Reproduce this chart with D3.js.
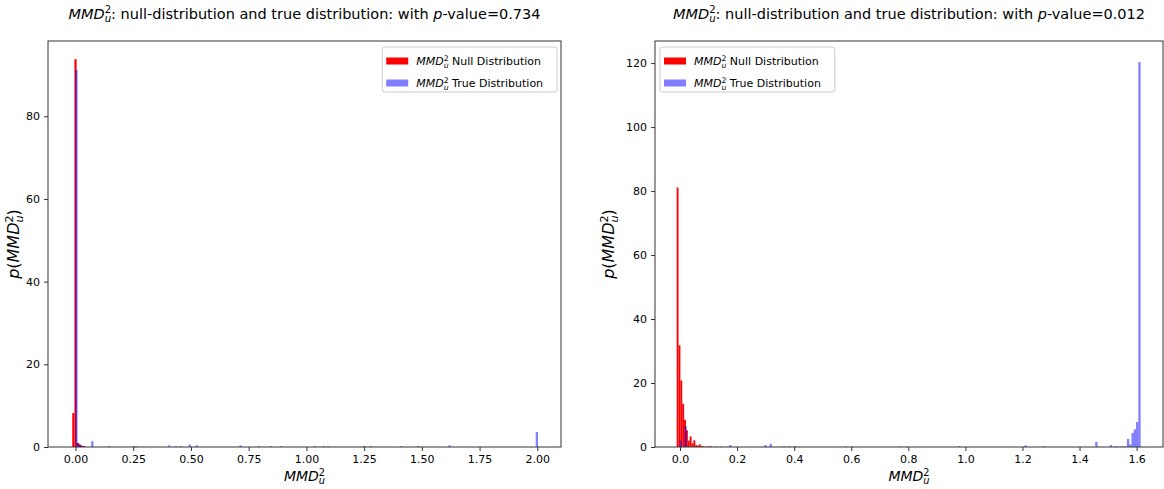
<!DOCTYPE html>
<html>
<head>
<meta charset="utf-8">
<script src="https://cdn.jsdelivr.net/npm/d3@7"></script>
<style>
  body { margin: 0; background: #fff; }
  text { font-family: "DejaVu Sans", sans-serif; fill: #000; }
</style>
</head>
<body>
<script>
// ---- data (bin left edge, density height) ----
// left panel, p-value 0.734
var leftNullW = 0.0095;
var leftNullX0 = [-0.014, -0.0045, 0.005, 0.0145, 0.024, 0.0335];
var leftNullH  = [8.2, 93.8, 1.0, 0.6, 0.3, 0.2];

var leftTrueW = 0.01;
var leftTrueX0 = [-0.001, 0.009, 0.019, 0.029, 0.068, 0.142, 0.25, 0.26, 0.40, 0.43, 0.45, 0.49, 0.52,
                  0.71, 0.79, 0.84, 0.885, 1.03, 1.07, 1.09, 1.245, 1.275, 1.405, 1.48, 1.615, 1.993];
var leftTrueH  = [91.2, 0.8, 0.4, 0.2, 1.4, 0.2, 0.2, 0.2, 0.4, 0.2, 0.2, 0.6, 0.4,
                  0.4, 0.2, 0.2, 0.2, 0.2, 0.2, 0.2, 0.2, 0.2, 0.2, 0.2, 0.4, 3.6];

// right panel, p-value 0.012
var rightNullW = 0.0065;
var rightNullX0 = [-0.0116, -0.0051, 0.0014, 0.0079, 0.0144, 0.0209, 0.0274, 0.0339, 0.0404,
                   0.0469, 0.0534, 0.0599, 0.0664, 0.0729, 0.0794, 0.0924, 0.1054];
var rightNullH  = [81.1, 31.8, 20.8, 13.5, 8.5, 5.2, 2.0, 3.3, 1.2,
                   2.1, 0.6, 0.4, 0.8, 0.3, 0.2, 0.2, 0.2];

var rightTrueW = 0.008;
var rightTrueX0 = [-0.001, 0.016, 0.10, 0.12, 0.14, 0.172, 0.296, 0.314, 0.36, 0.38, 0.40, 0.578, 0.60,
                   0.764, 0.79, 0.975, 1.207, 1.27, 1.455, 1.506, 1.52, 1.53, 1.545, 1.555,
                   1.566, 1.574, 1.582, 1.590, 1.598, 1.606];
var rightTrueH  = [2.0, 6.5, 0.2, 0.2, 0.2, 0.6, 0.6, 1.0, 0.2, 0.2, 0.3, 0.2, 0.2,
                   0.2, 0.2, 0.3, 0.5, 0.3, 1.6, 0.6, 0.2, 0.2, 0.2, 0.2,
                   2.5, 0.8, 4.4, 5.5, 7.8, 120.3];

var leftXTicks  = [0, 0.25, 0.5, 0.75, 1.0, 1.25, 1.5, 1.75, 2.0];
var leftYTicks  = [0, 20, 40, 60, 80];
var rightXTicks = [0, 0.2, 0.4, 0.6, 0.8, 1.0, 1.2, 1.4, 1.6];
var rightYTicks = [0, 20, 40, 60, 80, 100, 120];

var pValues = ["0.734", "0.012"];
var legendLabels = ["Null Distribution", "True Distribution"];

// ---- layout ----
var width = 1164, height = 489;
var plotTop = 41, plotBottom = 447;
var colors = ["#ff0000", "rgba(0,0,255,0.5)"];

var svg = d3.select("body").append("svg")
  .attr("width", width)
  .attr("height", height);

function zip(xs, hs) {
  return xs.map(function(x, i) { return {x0: x, h: hs[i]}; });
}

// writes MMD^2_u into a text element, returns the dy needed to get back to the baseline
function mmd(sel, fs) {
  sel.append("tspan").attr("font-style", "italic").text("MMD");
  var sup = sel.append("tspan").attr("font-size", fs * 0.7).attr("dy", -fs * 0.38).text("2");
  var w = sup.node().getComputedTextLength();
  sel.append("tspan").attr("font-size", fs * 0.7).attr("font-style", "italic")
    .attr("dx", -w).attr("dy", fs * 0.62).text("u");
  return -fs * 0.24;
}

var panels = [
  {left: 48, right: 561, xDomain: [-0.119, 2.1026], yDomain: [0, 98.2],
   xTicks: leftXTicks, xFmt: ".2f", yTicks: leftYTicks, p: pValues[0],
   nul: zip(leftNullX0, leftNullH), nulW: leftNullW,
   tru: zip(leftTrueX0, leftTrueH), truW: leftTrueW, legendRight: true, ylabX: 19},
  {left: 655, right: 1163, xDomain: [-0.0876, 1.6924], yDomain: [0, 126.9],
   xTicks: rightXTicks, xFmt: ".1f", yTicks: rightYTicks, p: pValues[1],
   nul: zip(rightNullX0, rightNullH), nulW: rightNullW,
   tru: zip(rightTrueX0, rightTrueH), truW: rightTrueW, legendRight: false, ylabX: 614}
];

panels.forEach(function(p) {
  var x = d3.scaleLinear().domain(p.xDomain).range([p.left, p.right]);
  var y = d3.scaleLinear().domain(p.yDomain).range([plotBottom, plotTop]);
  var g = svg.append("g");

  // bars: null first (opaque red), true on top (half blue)
  [[p.nul, p.nulW, colors[0]], [p.tru, p.truW, colors[1]]].forEach(function(s) {
    g.append("g").selectAll("rect")
      .data(s[0])
      .enter().append("rect")
      .attr("x", function(d) { return x(d.x0); })
      .attr("width", function(d) { return x(d.x0 + s[1]) - x(d.x0); })
      .attr("y", function(d) { return y(d.h); })
      .attr("height", function(d) { return y(0) - y(d.h); })
      .attr("fill", s[2]);
  });

  // axes
  var xAxis = g.append("g")
    .attr("transform", "translate(0," + plotBottom + ")")
    .call(d3.axisBottom(x).tickValues(p.xTicks).tickFormat(d3.format(p.xFmt)).tickSizeOuter(0).tickSize(4).tickPadding(4));
  var yAxis = g.append("g")
    .attr("transform", "translate(" + p.left + ",0)")
    .call(d3.axisLeft(y).tickValues(p.yTicks).tickSizeOuter(0).tickSize(4).tickPadding(4));
  [xAxis, yAxis].forEach(function(a) {
    a.select(".domain").remove();
    a.selectAll("line").attr("stroke", "#333");
    a.selectAll("text").attr("font-size", 11).attr("font-family", "DejaVu Sans").attr("fill", "#000");
  });

  // frame
  g.append("rect")
    .attr("x", p.left).attr("y", plotTop)
    .attr("width", p.right - p.left).attr("height", plotBottom - plotTop)
    .attr("fill", "none").attr("stroke", "#333").attr("stroke-width", 1);

  // title
  var cx = (p.left + p.right) / 2;
  var t = g.append("text").attr("x", cx).attr("y", 19).attr("text-anchor", "middle").attr("font-size", 14.5);
  var back = mmd(t, 14.5);
  t.append("tspan").attr("dy", back).text(": null-distribution and true distribution: with ");
  t.append("tspan").attr("font-style", "italic").text("p");
  t.append("tspan").text("-value=" + p.p);

  // x label
  var xl = g.append("text").attr("x", cx).attr("y", 481).attr("text-anchor", "middle").attr("font-size", 14);
  mmd(xl, 14);

  // y label
  var yl = g.append("text")
    .attr("transform", "translate(" + p.ylabX + "," + ((plotTop + plotBottom) / 2) + ") rotate(-90)")
    .attr("text-anchor", "middle").attr("font-size", 16);
  yl.append("tspan").attr("font-style", "italic").text("p");
  yl.append("tspan").text("(");
  var b2 = mmd(yl, 16);
  yl.append("tspan").attr("dy", b2).text(")");

  // legend
  var lg = g.append("g");
  var box = lg.append("rect").attr("rx", 2.5).attr("fill", "#fff").attr("fill-opacity", 0.8)
    .attr("stroke", "#cccccc").attr("stroke-width", 1);
  var maxLen = 0;
  legendLabels.forEach(function(lab, i) {
    var cy = 10 + i * 22;
    lg.append("rect").attr("x", 4).attr("y", cy - 3.5).attr("width", 22).attr("height", 7).attr("fill", colors[i]);
    var tx = lg.append("text").attr("x", 34).attr("y", cy + 4).attr("font-size", 11);
    var bk = mmd(tx, 11);
    tx.append("tspan").attr("dy", bk).text(" " + lab);
    maxLen = Math.max(maxLen, tx.node().getComputedTextLength());
  });
  var bw = 34 + maxLen + 9, bh = 45;
  box.attr("x", 0).attr("y", -4).attr("width", bw).attr("height", bh);
  var lx = p.legendRight ? p.right - 4 - bw : p.left + 5;
  lg.attr("transform", "translate(" + lx + "," + (plotTop + 10) + ")");
});
</script>
</body>
</html>
